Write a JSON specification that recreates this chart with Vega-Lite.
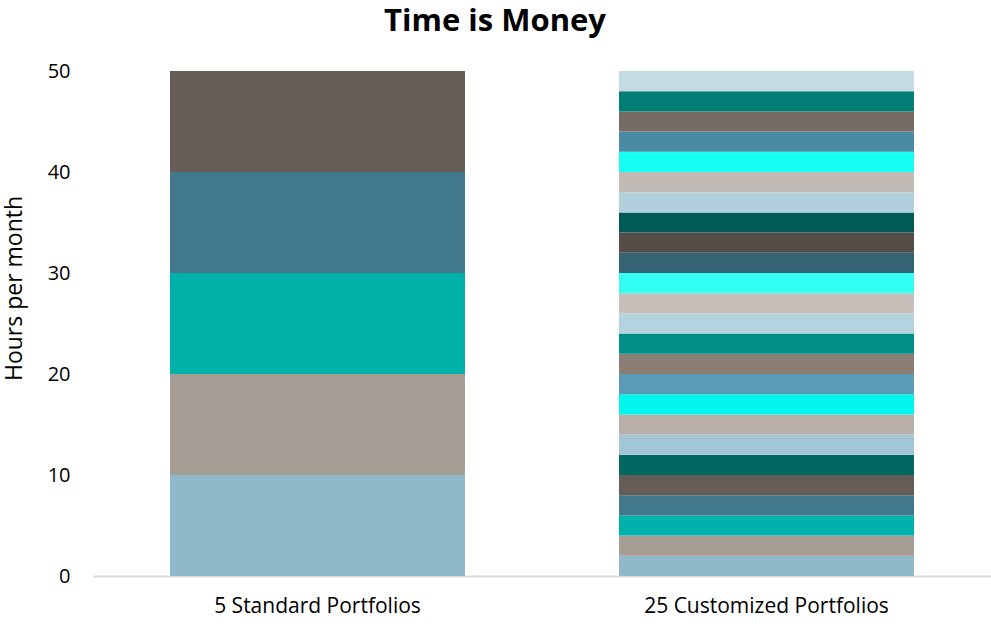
{
  "$schema": "https://vega.github.io/schema/vega-lite/v6.json",
  "autosize": "none",
  "width": 898,
  "height": 505,
  "padding": {"left": 93, "top": 71, "right": 0, "bottom": 63},
  "background": "white",
  "config": {"view": {"stroke": null}, "font": "Open Sans"},
  "title": {"text": "Time is Money", "fontSize": 31, "font": "Open Sans", "fontWeight": "bold", "color": "#000000", "anchor": "middle", "dx": -47, "offset": 23},
  "data": {"values": [
    {"group": "5 Standard Portfolios", "portfolio": "P1", "n": 1, "hours": 10},
    {"group": "5 Standard Portfolios", "portfolio": "P2", "n": 2, "hours": 10},
    {"group": "5 Standard Portfolios", "portfolio": "P3", "n": 3, "hours": 10},
    {"group": "5 Standard Portfolios", "portfolio": "P4", "n": 4, "hours": 10},
    {"group": "5 Standard Portfolios", "portfolio": "P5", "n": 5, "hours": 10},
    {"group": "25 Customized Portfolios", "portfolio": "P1", "n": 1, "hours": 2},
    {"group": "25 Customized Portfolios", "portfolio": "P2", "n": 2, "hours": 2},
    {"group": "25 Customized Portfolios", "portfolio": "P3", "n": 3, "hours": 2},
    {"group": "25 Customized Portfolios", "portfolio": "P4", "n": 4, "hours": 2},
    {"group": "25 Customized Portfolios", "portfolio": "P5", "n": 5, "hours": 2},
    {"group": "25 Customized Portfolios", "portfolio": "P6", "n": 6, "hours": 2},
    {"group": "25 Customized Portfolios", "portfolio": "P7", "n": 7, "hours": 2},
    {"group": "25 Customized Portfolios", "portfolio": "P8", "n": 8, "hours": 2},
    {"group": "25 Customized Portfolios", "portfolio": "P9", "n": 9, "hours": 2},
    {"group": "25 Customized Portfolios", "portfolio": "P10", "n": 10, "hours": 2},
    {"group": "25 Customized Portfolios", "portfolio": "P11", "n": 11, "hours": 2},
    {"group": "25 Customized Portfolios", "portfolio": "P12", "n": 12, "hours": 2},
    {"group": "25 Customized Portfolios", "portfolio": "P13", "n": 13, "hours": 2},
    {"group": "25 Customized Portfolios", "portfolio": "P14", "n": 14, "hours": 2},
    {"group": "25 Customized Portfolios", "portfolio": "P15", "n": 15, "hours": 2},
    {"group": "25 Customized Portfolios", "portfolio": "P16", "n": 16, "hours": 2},
    {"group": "25 Customized Portfolios", "portfolio": "P17", "n": 17, "hours": 2},
    {"group": "25 Customized Portfolios", "portfolio": "P18", "n": 18, "hours": 2},
    {"group": "25 Customized Portfolios", "portfolio": "P19", "n": 19, "hours": 2},
    {"group": "25 Customized Portfolios", "portfolio": "P20", "n": 20, "hours": 2},
    {"group": "25 Customized Portfolios", "portfolio": "P21", "n": 21, "hours": 2},
    {"group": "25 Customized Portfolios", "portfolio": "P22", "n": 22, "hours": 2},
    {"group": "25 Customized Portfolios", "portfolio": "P23", "n": 23, "hours": 2},
    {"group": "25 Customized Portfolios", "portfolio": "P24", "n": 24, "hours": 2},
    {"group": "25 Customized Portfolios", "portfolio": "P25", "n": 25, "hours": 2}
  ]},
  "mark": {"type": "bar", "strokeWidth": 0},
  "encoding": {
    "x": {
      "field": "group", "type": "nominal",
      "sort": ["5 Standard Portfolios", "25 Customized Portfolios"],
      "scale": {"paddingInner": 0.343, "paddingOuter": 0.1715},
      "axis": {"title": null, "labelAngle": 0, "labelFontSize": 21, "labelColor": "#000000", "labelPadding": 19, "labelLimit": 0, "ticks": false, "domainColor": "#D9D9D9", "domainWidth": 2, "labelFont": "Open Sans"}
    },
    "y": {
      "field": "hours", "type": "quantitative", "aggregate": "sum", "stack": "zero",
      "scale": {"domain": [0, 50], "nice": false},
      "axis": {"title": "Hours per month", "titleFontSize": 23, "titleFontWeight": "normal", "titleColor": "#000000", "titlePadding": 21, "titleY": 217, "values": [0, 10, 20, 30, 40, 50], "grid": false, "domain": false, "ticks": false, "labelFontSize": 20, "labelColor": "#000000", "labelPadding": 23, "labelFont": "Open Sans", "titleFont": "Open Sans"}
    },
    "order": {"field": "n", "type": "quantitative", "sort": "ascending"},
    "color": {
      "field": "portfolio", "type": "nominal", "legend": null,
      "scale": {
        "domain": ["P1","P2","P3","P4","P5","P6","P7","P8","P9","P10","P11","P12","P13","P14","P15","P16","P17","P18","P19","P20","P21","P22","P23","P24","P25"],
        "range": ["#8FB8CA","#A59C94","#00B2AA","#41788C","#665D56","#006861","#A3C6D6","#BAB0AA","#00F5EB","#5C9BB5","#897E74","#008F86","#B5D3DE","#C6BFB9","#33FFF5","#356373","#544C47","#005A55","#B2D0DC","#C2BAB5","#15FFF4","#4A8BA4","#766C63","#007E76","#C5DBE3"]
      }
    }
  }
}
